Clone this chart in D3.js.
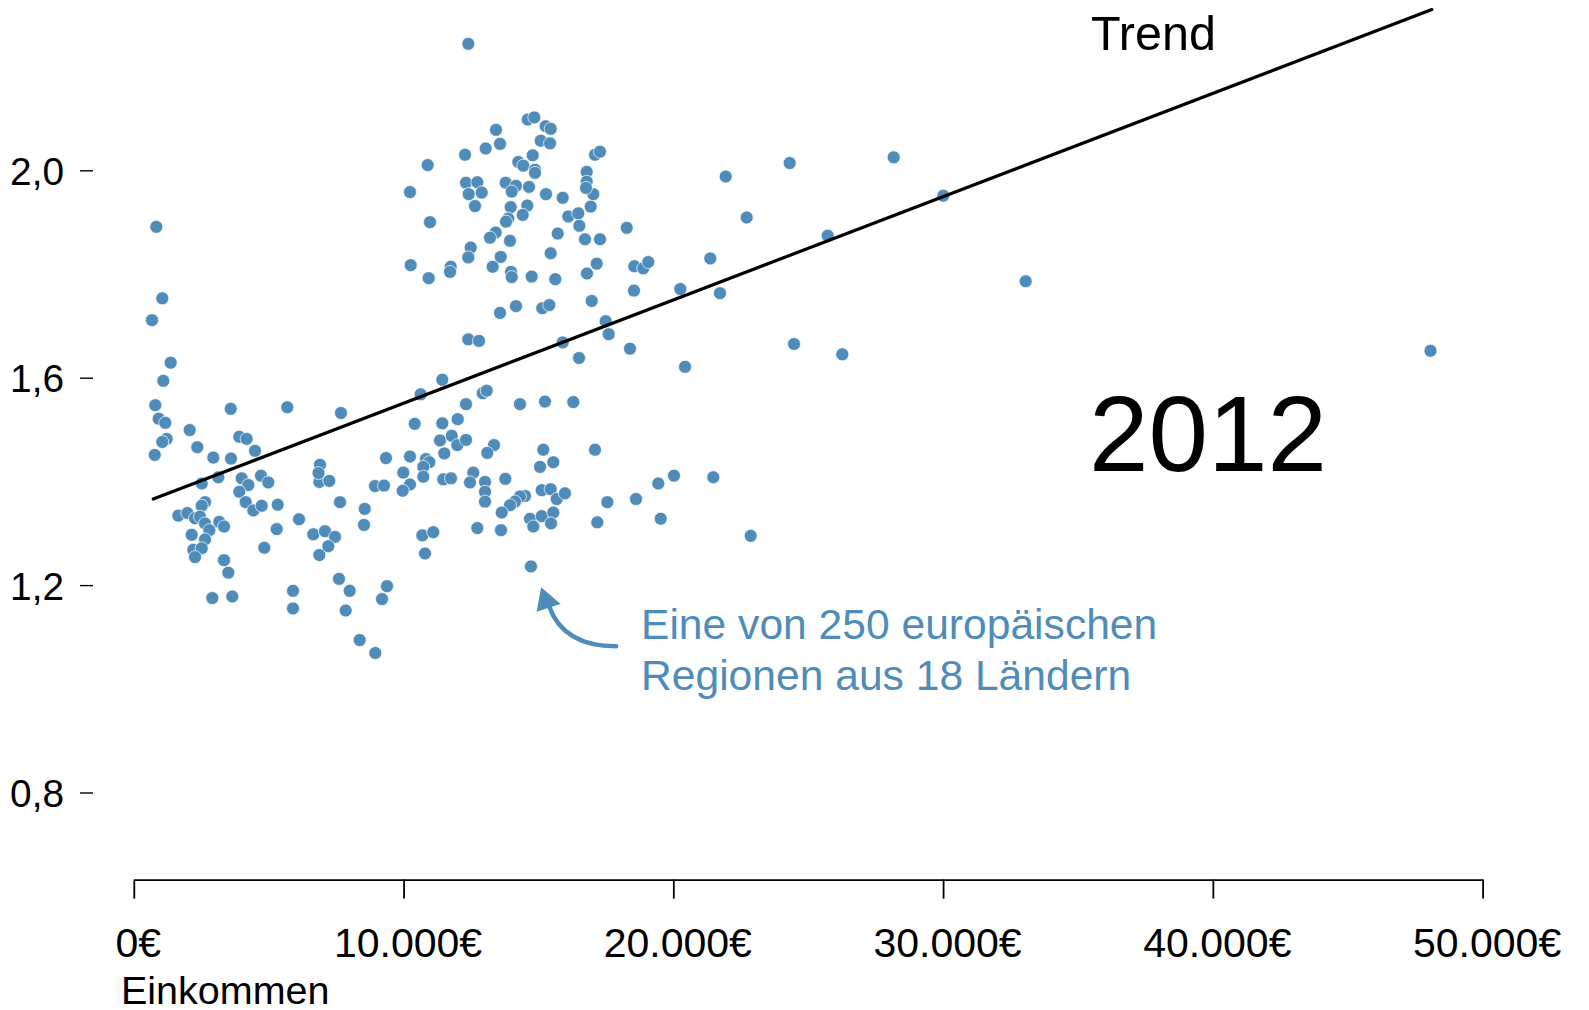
<!DOCTYPE html>
<html>
<head>
<meta charset="utf-8">
<script src="https://cdnjs.cloudflare.com/ajax/libs/d3/7.8.5/d3.min.js"></script>
<style>
  body { margin: 0; background: #fff; }
  text { font-family: "Liberation Sans", Arial, Helvetica, sans-serif; }
</style>
</head>
<body>
<div id="scatter"></div>
<script>
// income per region (EUR) and the y value
var income = [
  834, 1056, 675, 1368, 1094, 797, 923, 1168, 1220, 1056, 775, 2072, 2354, 2947, 3592, 3603, 3911, 4185, 4493, 5690, 7681,
  2517, 3132, 4000, 4245, 3911, 4715, 4986, 4148, 4430, 4741, 5334, 2639, 2517, 1650, 1983, 2269, 2454, 2639, 2799, 3169,
  3344, 2146, 2639, 2206, 2517, 2269, 3344, 3503, 4838, 5297, 6124, 6654, 6877, 6877,
  2910, 3651, 5902, 5902, 7088, 7459, 7210, 6902, 6847, 7247, 7644, 7607, 8003, 7855, 8374, 8952, 8560, 8534, 8941, 9201,
  12400, 10239, 10895, 10980, 10265, 10932, 11748, 11722, 12278, 12315, 12734, 12415, 12897, 12648, 13045, 13427, 13575,
  14602, 14847, 15269, 15454, 15084, 15429, 14787, 14253, 14439, 14872, 14872, 13786, 14168, 14009, 14650, 15280, 15899,
  13972, 14587, 14416, 13883, 13797, 13416, 13204, 13946, 12489, 12400, 13601, 13304, 13983, 14009, 14750, 15625, 15454,
  15714, 16107, 16478, 16515, 16726, 17282, 16937, 17034, 16789, 16789, 16763, 17097, 17282, 18272, 21942, 22720, 17160,
  16800, 18554, 18887, 19072, 18542, 20259, 21371, 21730, 16974, 13575, 14168, 15143, 15403, 17493, 17605,
  12400, 12797, 15899, 18394, 16504, 20433, 11436, 10635, 12934, 13082, 12315, 14316, 15243, 16292, 10413, 11436, 12007,
  11351, 11785, 11992, 12315, 11510, 13353, 13104, 15180, 15551, 15058, 17097, 9349, 10239, 10832, 10954, 10732, 10732,
  9990, 11473, 11759, 12585, 12463, 13019, 13019, 13019, 13772, 10239, 9968, 9275, 15121, 15454, 15677, 15985, 14502,
  14316, 14131, 13946, 13638, 14687, 14809, 15121, 15551, 15466, 12734, 13612, 17553, 17182, 18617, 19443, 20025, 21482,
  19532, 22868, 10695, 11102, 10795, 14724, 9386,
  28170, 30008, 25723, 33063, 26264, 24474, 24314, 48069
];

var rate = [
  1.891, 1.753, 1.711, 1.629, 1.594, 1.547, 1.521, 1.513, 1.482, 1.476, 1.451, 1.499, 1.466, 1.446, 1.540, 1.444, 1.486, 1.482, 1.459, 1.543, 1.532,
  1.396, 1.408, 1.406, 1.393, 1.380, 1.411, 1.398, 1.360, 1.344, 1.353, 1.355, 1.360, 1.353, 1.334, 1.339, 1.329, 1.332, 1.319, 1.306, 1.322,
  1.313, 1.297, 1.288, 1.268, 1.271, 1.254, 1.248, 1.224, 1.272, 1.308, 1.327, 1.298, 1.258, 1.399,
  1.175, 1.178, 1.189, 1.155, 1.304, 1.293, 1.275, 1.432, 1.416, 1.401, 1.360, 1.212, 1.189, 1.151, 1.094, 1.069, 1.347, 1.316, 1.391, 1.173,
  2.244, 1.958, 2.010, 1.900, 1.817, 1.792, 1.814, 1.804, 2.030, 1.976, 1.977, 1.954, 1.957, 1.931, 2.042, 2.078, 2.051,
  2.098, 2.102, 2.085, 2.080, 2.057, 2.052, 2.029, 2.016, 2.009, 2.001, 1.995, 1.976, 1.970, 1.959, 1.968, 1.954, 1.947,
  1.929, 1.932, 1.914, 1.907, 1.901, 1.880, 1.870, 1.864, 1.851, 1.832, 1.833, 1.814, 1.804, 1.794, 1.795, 1.790, 1.840,
  1.878, 1.911, 1.917, 1.893, 1.867, 1.867, 1.930, 1.954, 1.997, 1.978, 1.966, 2.030, 2.036, 1.889, 1.988, 1.909, 1.820,
  1.801, 1.815, 1.811, 1.823, 1.768, 1.771, 1.830, 1.763, 1.748, 1.725, 1.738, 1.734, 1.740, 1.709, 1.684,
  1.674, 1.671, 1.668, 1.656, 1.638, 1.621, 1.596, 1.568, 1.570, 1.575, 1.549, 1.549, 1.554, 1.553, 1.511, 1.512, 1.520,
  1.479, 1.488, 1.470, 1.480, 1.454, 1.470, 1.455, 1.461, 1.437, 1.428, 1.461, 1.445, 1.448, 1.443, 1.437, 1.428, 1.409,
  1.417, 1.404, 1.406, 1.417, 1.398, 1.399, 1.380, 1.361, 1.405, 1.394, 1.382, 1.392, 1.383, 1.385, 1.366, 1.377, 1.372,
  1.371, 1.361, 1.354, 1.340, 1.328, 1.313, 1.333, 1.340, 1.319, 1.310, 1.306, 1.360, 1.321, 1.366, 1.396, 1.411, 1.408,
  1.328, 1.295, 1.296, 1.302, 1.261, 1.236, 1.198,
  2.025, 1.951, 1.874, 1.786, 1.645, 1.665, 2.014, 1.652
];

// trend line end points
var trendIncome = [720, 48120];
var trendRate = [1.366, 2.31];

// tick values
var xTicks = [0, 10000, 20000, 30000, 40000, 50000];
var yTicks = [0.8, 1.2, 1.6, 2.0];

var svgWidth = 1589;
var svgHeight = 1010;
var dotColor = "#508cb9";

var svg = d3.select("#scatter")
  .append("svg")
  .attr("width", svgWidth)
  .attr("height", svgHeight);

var de = d3.formatLocale({
  decimal: ",",
  thousands: ".",
  grouping: [3],
  currency: ["", "€"]
});

// scales
var xScale = d3.scaleLinear()
  .domain([0, 50000])
  .range([133.8, 1482.6]);

var yScale = d3.scaleLinear()
  .domain([0.8, 2.0])
  .range([792.5, 170.3]);

// x axis
var bottomAxis = d3.axisBottom(xScale)
  .tickValues(xTicks)
  .tickSize(19)
  .tickSizeOuter(0)
  .tickPadding(29)
  .tickFormat(d => de.format(",.0f")(d) + "€");

var xAxis = svg.append("g")
  .attr("transform", "translate(0, 879.6)")
  .call(bottomAxis);

xAxis.selectAll("path, line")
  .attr("stroke", "#000")
  .attr("stroke-width", 1.8);

xAxis.selectAll("text")
  .attr("dx", 4)
  .style("font-size", "41px")
  .style("font-family", "'Liberation Sans', Arial, sans-serif")
  .attr("fill", "#000");

// y axis, ticks only
var leftAxis = d3.axisLeft(yScale)
  .tickValues(yTicks)
  .tickSize(13)
  .tickPadding(16)
  .tickFormat(d => de.format(".1f")(d));

var yAxis = svg.append("g")
  .attr("transform", "translate(93, 0)")
  .call(leftAxis);

yAxis.select(".domain").remove();

yAxis.selectAll("line")
  .attr("stroke", "#000")
  .attr("stroke-width", 1.4);

yAxis.selectAll("text")
  .attr("dy", "0.36em")
  .style("font-size", "38.8px")
  .style("font-family", "'Liberation Sans', Arial, sans-serif")
  .attr("fill", "#000");

// axis title
svg.append("text")
  .attr("x", 121)
  .attr("y", 1004)
  .style("font-size", "39.5px")
  .text("Einkommen");

// points
var points = income.map((d, i) => ({ income: d, rate: rate[i] }));

svg.append("g").selectAll("circle")
  .data(points)
  .enter()
  .append("circle")
  .attr("cx", d => xScale(d.income))
  .attr("cy", d => yScale(d.rate))
  .attr("r", 6.5)
  .attr("fill", dotColor)
  .attr("stroke", "#fff")
  .attr("stroke-width", 0.7);

// trend line
var trend = trendIncome.map((d, i) => [d, trendRate[i]]);

svg.append("path")
  .datum(trend)
  .attr("fill", "none")
  .attr("stroke", "#000")
  .attr("stroke-width", 3.2)
  .attr("stroke-linecap", "round")
  .attr("d", d3.line()
    .x(d => xScale(d[0]))
    .y(d => yScale(d[1])));

svg.append("text")
  .attr("x", 1091)
  .attr("y", 50)
  .style("font-size", "48.5px")
  .text("Trend");

svg.append("text")
  .attr("x", 1089)
  .attr("y", 471)
  .style("font-size", "107px")
  .text("2012");

// annotation with curved arrow pointing at one region
var tipX = xScale(15100);
var tipY = yScale(1.196);

svg.append("path")
  .attr("d", `M${tipX + 75},${tipY + 59} Q${tipX + 22},${tipY + 59} ${tipX + 8},${tipY + 19}`)
  .attr("fill", "none")
  .attr("stroke", dotColor)
  .attr("stroke-width", 4.5)
  .attr("stroke-linecap", "round");

svg.append("path")
  .attr("d", `M${tipX},${tipY} L${tipX - 4.5},${tipY + 24.5} L${tipX + 19.5},${tipY + 16.8} Z`)
  .attr("fill", dotColor);

var note = svg.append("text")
  .attr("fill", dotColor)
  .style("font-size", "42.6px");

note.append("tspan")
  .attr("x", 641)
  .attr("y", 639)
  .text("Eine von 250 europäischen");

note.append("tspan")
  .attr("x", 641)
  .attr("y", 690)
  .text("Regionen aus 18 Ländern");
</script>
</body>
</html>
